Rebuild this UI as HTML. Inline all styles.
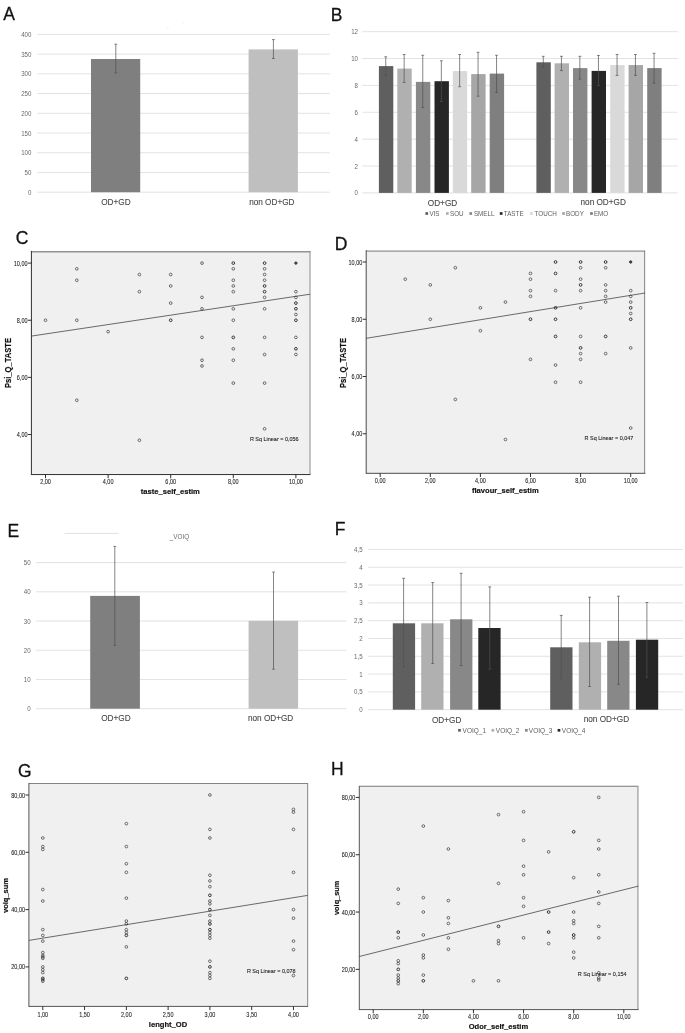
<!DOCTYPE html>
<html lang="en">
<head>
<meta charset="utf-8">
<title>Figure</title>
<style>
html,body{margin:0;padding:0;background:#fff;}
body{width:685px;height:1033px;overflow:hidden;}
svg{display:block;font-family:"Liberation Sans", Arial, sans-serif;filter:blur(0.3px);}
</style>
</head>
<body>
<svg width="685" height="1033" viewBox="0 0 685 1033">
<rect x="0" y="0" width="685" height="1033" fill="#ffffff"/>
<text x="3.30" y="20.00" font-size="17.5" fill="#111" text-anchor="start" font-weight="normal" stroke="#111" stroke-width="0.28">A</text>
<text x="330.70" y="20.60" font-size="17.5" fill="#111" text-anchor="start" font-weight="normal" stroke="#111" stroke-width="0.28">B</text>
<text x="15.80" y="243.90" font-size="17.5" fill="#111" text-anchor="start" font-weight="normal" stroke="#111" stroke-width="0.28">C</text>
<text x="334.80" y="249.80" font-size="17.5" fill="#111" text-anchor="start" font-weight="normal" stroke="#111" stroke-width="0.28">D</text>
<text x="7.40" y="537.10" font-size="17.5" fill="#111" text-anchor="start" font-weight="normal" stroke="#111" stroke-width="0.28">E</text>
<text x="334.80" y="535.10" font-size="17.5" fill="#111" text-anchor="start" font-weight="normal" stroke="#111" stroke-width="0.28">F</text>
<text x="18.10" y="777.30" font-size="17.5" fill="#111" text-anchor="start" font-weight="normal" stroke="#111" stroke-width="0.28">G</text>
<text x="330.90" y="775.20" font-size="17.5" fill="#111" text-anchor="start" font-weight="normal" stroke="#111" stroke-width="0.28">H</text>
<line x1="37.20" y1="192.20" x2="329.80" y2="192.20" stroke="#d8d8d8" stroke-width="0.75"/>
<text transform="translate(31.40,194.70) scale(0.96,1)" font-size="6.4" fill="#6a6a6a" text-anchor="end" font-weight="normal" >0</text>
<line x1="37.20" y1="172.47" x2="329.80" y2="172.47" stroke="#d8d8d8" stroke-width="0.75"/>
<text transform="translate(31.40,174.97) scale(0.96,1)" font-size="6.4" fill="#6a6a6a" text-anchor="end" font-weight="normal" >50</text>
<line x1="37.20" y1="152.75" x2="329.80" y2="152.75" stroke="#d8d8d8" stroke-width="0.75"/>
<text transform="translate(31.40,155.25) scale(0.96,1)" font-size="6.4" fill="#6a6a6a" text-anchor="end" font-weight="normal" >100</text>
<line x1="37.20" y1="133.02" x2="329.80" y2="133.02" stroke="#d8d8d8" stroke-width="0.75"/>
<text transform="translate(31.40,135.52) scale(0.96,1)" font-size="6.4" fill="#6a6a6a" text-anchor="end" font-weight="normal" >150</text>
<line x1="37.20" y1="113.30" x2="329.80" y2="113.30" stroke="#d8d8d8" stroke-width="0.75"/>
<text transform="translate(31.40,115.80) scale(0.96,1)" font-size="6.4" fill="#6a6a6a" text-anchor="end" font-weight="normal" >200</text>
<line x1="37.20" y1="93.57" x2="329.80" y2="93.57" stroke="#d8d8d8" stroke-width="0.75"/>
<text transform="translate(31.40,96.07) scale(0.96,1)" font-size="6.4" fill="#6a6a6a" text-anchor="end" font-weight="normal" >250</text>
<line x1="37.20" y1="73.85" x2="329.80" y2="73.85" stroke="#d8d8d8" stroke-width="0.75"/>
<text transform="translate(31.40,76.35) scale(0.96,1)" font-size="6.4" fill="#6a6a6a" text-anchor="end" font-weight="normal" >300</text>
<line x1="37.20" y1="54.12" x2="329.80" y2="54.12" stroke="#d8d8d8" stroke-width="0.75"/>
<text transform="translate(31.40,56.62) scale(0.96,1)" font-size="6.4" fill="#6a6a6a" text-anchor="end" font-weight="normal" >350</text>
<line x1="37.20" y1="34.40" x2="329.80" y2="34.40" stroke="#d8d8d8" stroke-width="0.75"/>
<text transform="translate(31.40,36.90) scale(0.96,1)" font-size="6.4" fill="#6a6a6a" text-anchor="end" font-weight="normal" >400</text>
<rect x="91.00" y="59.00" width="49.20" height="133.20" fill="#7f7f7f" />
<rect x="248.60" y="49.40" width="49.30" height="142.80" fill="#bfbfbf" />
<line x1="115.80" y1="44.20" x2="115.80" y2="72.90" stroke="#505050" stroke-width="0.7"/>
<line x1="114.40" y1="44.20" x2="117.20" y2="44.20" stroke="#505050" stroke-width="0.7"/>
<line x1="114.40" y1="72.90" x2="117.20" y2="72.90" stroke="#505050" stroke-width="0.7"/>
<line x1="273.40" y1="39.60" x2="273.40" y2="58.50" stroke="#505050" stroke-width="0.7"/>
<line x1="272.00" y1="39.60" x2="274.80" y2="39.60" stroke="#505050" stroke-width="0.7"/>
<line x1="272.00" y1="58.50" x2="274.80" y2="58.50" stroke="#505050" stroke-width="0.7"/>
<text transform="translate(115.90,204.60) scale(0.855,1)" font-size="9.6" fill="#484848" text-anchor="middle" font-weight="normal" stroke="#484848" stroke-width="0.12">OD+GD</text>
<text transform="translate(271.80,204.60) scale(0.855,1)" font-size="9.6" fill="#484848" text-anchor="middle" font-weight="normal" stroke="#484848" stroke-width="0.12">non OD+GD</text>
<rect x="182.60" y="22.60" width="0.80" height="0.60" fill="#cfcfcf" />
<rect x="166.50" y="28.20" width="2.20" height="0.50" fill="#e0e0e0" />
<line x1="362.30" y1="192.90" x2="677.80" y2="192.90" stroke="#d8d8d8" stroke-width="0.75"/>
<text transform="translate(358.00,195.40) scale(0.96,1)" font-size="6.4" fill="#6a6a6a" text-anchor="end" font-weight="normal" >0</text>
<line x1="362.30" y1="166.03" x2="677.80" y2="166.03" stroke="#d8d8d8" stroke-width="0.75"/>
<text transform="translate(358.00,168.53) scale(0.96,1)" font-size="6.4" fill="#6a6a6a" text-anchor="end" font-weight="normal" >2</text>
<line x1="362.30" y1="139.16" x2="677.80" y2="139.16" stroke="#d8d8d8" stroke-width="0.75"/>
<text transform="translate(358.00,141.66) scale(0.96,1)" font-size="6.4" fill="#6a6a6a" text-anchor="end" font-weight="normal" >4</text>
<line x1="362.30" y1="112.29" x2="677.80" y2="112.29" stroke="#d8d8d8" stroke-width="0.75"/>
<text transform="translate(358.00,114.79) scale(0.96,1)" font-size="6.4" fill="#6a6a6a" text-anchor="end" font-weight="normal" >6</text>
<line x1="362.30" y1="85.42" x2="677.80" y2="85.42" stroke="#d8d8d8" stroke-width="0.75"/>
<text transform="translate(358.00,87.92) scale(0.96,1)" font-size="6.4" fill="#6a6a6a" text-anchor="end" font-weight="normal" >8</text>
<line x1="362.30" y1="58.55" x2="677.80" y2="58.55" stroke="#d8d8d8" stroke-width="0.75"/>
<text transform="translate(358.00,61.05) scale(0.96,1)" font-size="6.4" fill="#6a6a6a" text-anchor="end" font-weight="normal" >10</text>
<line x1="362.30" y1="31.68" x2="677.80" y2="31.68" stroke="#d8d8d8" stroke-width="0.75"/>
<text transform="translate(358.00,34.18) scale(0.96,1)" font-size="6.4" fill="#6a6a6a" text-anchor="end" font-weight="normal" >12</text>
<rect x="378.90" y="66.10" width="14.40" height="126.80" fill="#5f5f5f" />
<rect x="397.30" y="68.60" width="14.40" height="124.30" fill="#b0b0b0" />
<rect x="415.90" y="81.90" width="14.40" height="111.00" fill="#888888" />
<rect x="434.50" y="81.20" width="14.40" height="111.70" fill="#262626" />
<rect x="452.80" y="71.10" width="14.40" height="121.80" fill="#d9d9d9" />
<rect x="471.20" y="74.10" width="14.40" height="118.80" fill="#a6a6a6" />
<rect x="489.70" y="73.60" width="14.40" height="119.30" fill="#7f7f7f" />
<rect x="536.40" y="62.30" width="14.40" height="130.60" fill="#5f5f5f" />
<rect x="554.60" y="63.30" width="14.40" height="129.60" fill="#b0b0b0" />
<rect x="573.00" y="68.10" width="14.40" height="124.80" fill="#888888" />
<rect x="591.60" y="70.90" width="14.40" height="122.00" fill="#262626" />
<rect x="610.20" y="65.10" width="14.40" height="127.80" fill="#d9d9d9" />
<rect x="628.60" y="65.10" width="14.40" height="127.80" fill="#a6a6a6" />
<rect x="647.20" y="68.10" width="14.40" height="124.80" fill="#7f7f7f" />
<line x1="385.75" y1="56.80" x2="385.75" y2="75.40" stroke="#505050" stroke-width="0.7"/>
<line x1="384.35" y1="56.80" x2="387.15" y2="56.80" stroke="#505050" stroke-width="0.7"/>
<line x1="384.35" y1="75.40" x2="387.15" y2="75.40" stroke="#505050" stroke-width="0.7"/>
<line x1="404.15" y1="54.50" x2="404.15" y2="82.40" stroke="#505050" stroke-width="0.7"/>
<line x1="402.75" y1="54.50" x2="405.55" y2="54.50" stroke="#505050" stroke-width="0.7"/>
<line x1="402.75" y1="82.40" x2="405.55" y2="82.40" stroke="#505050" stroke-width="0.7"/>
<line x1="422.75" y1="55.30" x2="422.75" y2="107.50" stroke="#505050" stroke-width="0.7"/>
<line x1="421.35" y1="55.30" x2="424.15" y2="55.30" stroke="#505050" stroke-width="0.7"/>
<line x1="421.35" y1="107.50" x2="424.15" y2="107.50" stroke="#505050" stroke-width="0.7"/>
<line x1="441.35" y1="60.80" x2="441.35" y2="101.50" stroke="#505050" stroke-width="0.7"/>
<line x1="439.95" y1="60.80" x2="442.75" y2="60.80" stroke="#505050" stroke-width="0.7"/>
<line x1="439.95" y1="101.50" x2="442.75" y2="101.50" stroke="#505050" stroke-width="0.7"/>
<line x1="459.65" y1="54.50" x2="459.65" y2="86.70" stroke="#505050" stroke-width="0.7"/>
<line x1="458.25" y1="54.50" x2="461.05" y2="54.50" stroke="#505050" stroke-width="0.7"/>
<line x1="458.25" y1="86.70" x2="461.05" y2="86.70" stroke="#505050" stroke-width="0.7"/>
<line x1="478.05" y1="52.30" x2="478.05" y2="96.20" stroke="#505050" stroke-width="0.7"/>
<line x1="476.65" y1="52.30" x2="479.45" y2="52.30" stroke="#505050" stroke-width="0.7"/>
<line x1="476.65" y1="96.20" x2="479.45" y2="96.20" stroke="#505050" stroke-width="0.7"/>
<line x1="496.55" y1="55.30" x2="496.55" y2="92.50" stroke="#505050" stroke-width="0.7"/>
<line x1="495.15" y1="55.30" x2="497.95" y2="55.30" stroke="#505050" stroke-width="0.7"/>
<line x1="495.15" y1="92.50" x2="497.95" y2="92.50" stroke="#505050" stroke-width="0.7"/>
<line x1="543.25" y1="56.30" x2="543.25" y2="67.30" stroke="#505050" stroke-width="0.7"/>
<line x1="541.85" y1="56.30" x2="544.65" y2="56.30" stroke="#505050" stroke-width="0.7"/>
<line x1="541.85" y1="67.30" x2="544.65" y2="67.30" stroke="#505050" stroke-width="0.7"/>
<line x1="561.45" y1="56.30" x2="561.45" y2="70.60" stroke="#505050" stroke-width="0.7"/>
<line x1="560.05" y1="56.30" x2="562.85" y2="56.30" stroke="#505050" stroke-width="0.7"/>
<line x1="560.05" y1="70.60" x2="562.85" y2="70.60" stroke="#505050" stroke-width="0.7"/>
<line x1="579.85" y1="56.30" x2="579.85" y2="79.10" stroke="#505050" stroke-width="0.7"/>
<line x1="578.45" y1="56.30" x2="581.25" y2="56.30" stroke="#505050" stroke-width="0.7"/>
<line x1="578.45" y1="79.10" x2="581.25" y2="79.10" stroke="#505050" stroke-width="0.7"/>
<line x1="598.45" y1="55.50" x2="598.45" y2="85.40" stroke="#505050" stroke-width="0.7"/>
<line x1="597.05" y1="55.50" x2="599.85" y2="55.50" stroke="#505050" stroke-width="0.7"/>
<line x1="597.05" y1="85.40" x2="599.85" y2="85.40" stroke="#505050" stroke-width="0.7"/>
<line x1="617.05" y1="54.50" x2="617.05" y2="75.40" stroke="#505050" stroke-width="0.7"/>
<line x1="615.65" y1="54.50" x2="618.45" y2="54.50" stroke="#505050" stroke-width="0.7"/>
<line x1="615.65" y1="75.40" x2="618.45" y2="75.40" stroke="#505050" stroke-width="0.7"/>
<line x1="635.45" y1="54.50" x2="635.45" y2="75.40" stroke="#505050" stroke-width="0.7"/>
<line x1="634.05" y1="54.50" x2="636.85" y2="54.50" stroke="#505050" stroke-width="0.7"/>
<line x1="634.05" y1="75.40" x2="636.85" y2="75.40" stroke="#505050" stroke-width="0.7"/>
<line x1="654.05" y1="53.30" x2="654.05" y2="83.20" stroke="#505050" stroke-width="0.7"/>
<line x1="652.65" y1="53.30" x2="655.45" y2="53.30" stroke="#505050" stroke-width="0.7"/>
<line x1="652.65" y1="83.20" x2="655.45" y2="83.20" stroke="#505050" stroke-width="0.7"/>
<text transform="translate(442.50,205.80) scale(0.855,1)" font-size="9.6" fill="#484848" text-anchor="middle" font-weight="normal" stroke="#484848" stroke-width="0.12">OD+GD</text>
<text transform="translate(603.20,204.70) scale(0.855,1)" font-size="9.6" fill="#484848" text-anchor="middle" font-weight="normal" stroke="#484848" stroke-width="0.12">non OD+GD</text>
<rect x="425.40" y="212.15" width="2.70" height="2.70" fill="#5f5f5f" />
<text transform="translate(429.40,215.85) scale(0.97,1)" font-size="6.5" fill="#5e5e5e" text-anchor="start" font-weight="normal" >VIS</text>
<rect x="446.00" y="212.15" width="2.70" height="2.70" fill="#b0b0b0" />
<text transform="translate(450.00,215.85) scale(0.97,1)" font-size="6.5" fill="#5e5e5e" text-anchor="start" font-weight="normal" >SOU</text>
<rect x="469.40" y="212.15" width="2.70" height="2.70" fill="#888888" />
<text transform="translate(473.90,215.85) scale(0.97,1)" font-size="6.5" fill="#5e5e5e" text-anchor="start" font-weight="normal" >SMELL</text>
<rect x="499.80" y="212.15" width="2.70" height="2.70" fill="#262626" />
<text transform="translate(503.80,215.85) scale(0.97,1)" font-size="6.5" fill="#5e5e5e" text-anchor="start" font-weight="normal" >TASTE</text>
<rect x="530.00" y="212.15" width="2.70" height="2.70" fill="#d9d9d9" />
<text transform="translate(534.60,215.85) scale(0.97,1)" font-size="6.5" fill="#5e5e5e" text-anchor="start" font-weight="normal" >TOUCH</text>
<rect x="562.20" y="212.15" width="2.70" height="2.70" fill="#a6a6a6" />
<text transform="translate(566.00,215.85) scale(0.97,1)" font-size="6.5" fill="#5e5e5e" text-anchor="start" font-weight="normal" >BODY</text>
<rect x="590.10" y="212.15" width="2.70" height="2.70" fill="#7f7f7f" />
<text transform="translate(593.90,215.85) scale(0.97,1)" font-size="6.5" fill="#5e5e5e" text-anchor="start" font-weight="normal" >EMO</text>
<line x1="35.90" y1="708.70" x2="346.30" y2="708.70" stroke="#d8d8d8" stroke-width="0.75"/>
<text transform="translate(30.70,711.20) scale(0.96,1)" font-size="6.4" fill="#6a6a6a" text-anchor="end" font-weight="normal" >0</text>
<line x1="35.90" y1="679.48" x2="346.30" y2="679.48" stroke="#d8d8d8" stroke-width="0.75"/>
<text transform="translate(30.70,681.98) scale(0.96,1)" font-size="6.4" fill="#6a6a6a" text-anchor="end" font-weight="normal" >10</text>
<line x1="35.90" y1="650.26" x2="346.30" y2="650.26" stroke="#d8d8d8" stroke-width="0.75"/>
<text transform="translate(30.70,652.76) scale(0.96,1)" font-size="6.4" fill="#6a6a6a" text-anchor="end" font-weight="normal" >20</text>
<line x1="35.90" y1="621.04" x2="346.30" y2="621.04" stroke="#d8d8d8" stroke-width="0.75"/>
<text transform="translate(30.70,623.54) scale(0.96,1)" font-size="6.4" fill="#6a6a6a" text-anchor="end" font-weight="normal" >30</text>
<line x1="35.90" y1="591.82" x2="346.30" y2="591.82" stroke="#d8d8d8" stroke-width="0.75"/>
<text transform="translate(30.70,594.32) scale(0.96,1)" font-size="6.4" fill="#6a6a6a" text-anchor="end" font-weight="normal" >40</text>
<line x1="35.90" y1="562.60" x2="346.30" y2="562.60" stroke="#d8d8d8" stroke-width="0.75"/>
<text transform="translate(30.70,565.10) scale(0.96,1)" font-size="6.4" fill="#6a6a6a" text-anchor="end" font-weight="normal" >50</text>
<rect x="90.20" y="595.90" width="49.70" height="112.80" fill="#7f7f7f" />
<rect x="248.60" y="620.80" width="49.50" height="87.90" fill="#bfbfbf" />
<line x1="114.80" y1="546.40" x2="114.80" y2="645.40" stroke="#505050" stroke-width="0.7"/>
<line x1="113.40" y1="546.40" x2="116.20" y2="546.40" stroke="#505050" stroke-width="0.7"/>
<line x1="113.40" y1="645.40" x2="116.20" y2="645.40" stroke="#505050" stroke-width="0.7"/>
<line x1="273.50" y1="572.10" x2="273.50" y2="669.20" stroke="#505050" stroke-width="0.7"/>
<line x1="272.10" y1="572.10" x2="274.90" y2="572.10" stroke="#505050" stroke-width="0.7"/>
<line x1="272.10" y1="669.20" x2="274.90" y2="669.20" stroke="#505050" stroke-width="0.7"/>
<text transform="translate(115.90,721.30) scale(0.855,1)" font-size="9.6" fill="#484848" text-anchor="middle" font-weight="normal" stroke="#484848" stroke-width="0.12">OD+GD</text>
<text transform="translate(270.60,721.30) scale(0.855,1)" font-size="9.6" fill="#484848" text-anchor="middle" font-weight="normal" stroke="#484848" stroke-width="0.12">non OD+GD</text>
<line x1="64.60" y1="533.40" x2="118.60" y2="533.40" stroke="#d4d4d4" stroke-width="0.7"/>
<text x="169.60" y="538.60" font-size="6.4" fill="#707070" text-anchor="start" font-weight="normal" >_VOIQ</text>
<line x1="368.20" y1="709.70" x2="682.90" y2="709.70" stroke="#d8d8d8" stroke-width="0.75"/>
<text transform="translate(362.60,712.20) scale(0.96,1)" font-size="6.4" fill="#6a6a6a" text-anchor="end" font-weight="normal" >0</text>
<line x1="368.20" y1="691.89" x2="682.90" y2="691.89" stroke="#d8d8d8" stroke-width="0.75"/>
<text transform="translate(362.60,694.39) scale(0.96,1)" font-size="6.4" fill="#6a6a6a" text-anchor="end" font-weight="normal" >0,5</text>
<line x1="368.20" y1="674.08" x2="682.90" y2="674.08" stroke="#d8d8d8" stroke-width="0.75"/>
<text transform="translate(362.60,676.58) scale(0.96,1)" font-size="6.4" fill="#6a6a6a" text-anchor="end" font-weight="normal" >1</text>
<line x1="368.20" y1="656.27" x2="682.90" y2="656.27" stroke="#d8d8d8" stroke-width="0.75"/>
<text transform="translate(362.60,658.77) scale(0.96,1)" font-size="6.4" fill="#6a6a6a" text-anchor="end" font-weight="normal" >1,5</text>
<line x1="368.20" y1="638.46" x2="682.90" y2="638.46" stroke="#d8d8d8" stroke-width="0.75"/>
<text transform="translate(362.60,640.96) scale(0.96,1)" font-size="6.4" fill="#6a6a6a" text-anchor="end" font-weight="normal" >2</text>
<line x1="368.20" y1="620.65" x2="682.90" y2="620.65" stroke="#d8d8d8" stroke-width="0.75"/>
<text transform="translate(362.60,623.15) scale(0.96,1)" font-size="6.4" fill="#6a6a6a" text-anchor="end" font-weight="normal" >2,5</text>
<line x1="368.20" y1="602.84" x2="682.90" y2="602.84" stroke="#d8d8d8" stroke-width="0.75"/>
<text transform="translate(362.60,605.34) scale(0.96,1)" font-size="6.4" fill="#6a6a6a" text-anchor="end" font-weight="normal" >3</text>
<line x1="368.20" y1="585.03" x2="682.90" y2="585.03" stroke="#d8d8d8" stroke-width="0.75"/>
<text transform="translate(362.60,587.53) scale(0.96,1)" font-size="6.4" fill="#6a6a6a" text-anchor="end" font-weight="normal" >3,5</text>
<line x1="368.20" y1="567.22" x2="682.90" y2="567.22" stroke="#d8d8d8" stroke-width="0.75"/>
<text transform="translate(362.60,569.72) scale(0.96,1)" font-size="6.4" fill="#6a6a6a" text-anchor="end" font-weight="normal" >4</text>
<line x1="368.20" y1="549.41" x2="682.90" y2="549.41" stroke="#d8d8d8" stroke-width="0.75"/>
<text transform="translate(362.60,551.91) scale(0.96,1)" font-size="6.4" fill="#6a6a6a" text-anchor="end" font-weight="normal" >4,5</text>
<rect x="392.80" y="623.30" width="22.30" height="86.40" fill="#5f5f5f" />
<rect x="421.20" y="623.30" width="22.30" height="86.40" fill="#b0b0b0" />
<rect x="450.10" y="619.30" width="22.30" height="90.40" fill="#888888" />
<rect x="478.30" y="628.00" width="22.30" height="81.70" fill="#262626" />
<rect x="550.20" y="647.30" width="22.30" height="62.40" fill="#5f5f5f" />
<rect x="578.80" y="642.30" width="22.30" height="67.40" fill="#b0b0b0" />
<rect x="607.20" y="640.80" width="22.30" height="68.90" fill="#888888" />
<rect x="635.90" y="639.70" width="22.30" height="70.00" fill="#262626" />
<line x1="403.60" y1="578.30" x2="403.60" y2="667.00" stroke="#505050" stroke-width="0.7"/>
<line x1="402.20" y1="578.30" x2="405.00" y2="578.30" stroke="#505050" stroke-width="0.7"/>
<line x1="402.20" y1="667.00" x2="405.00" y2="667.00" stroke="#505050" stroke-width="0.7"/>
<line x1="432.70" y1="582.60" x2="432.70" y2="663.50" stroke="#505050" stroke-width="0.7"/>
<line x1="431.30" y1="582.60" x2="434.10" y2="582.60" stroke="#505050" stroke-width="0.7"/>
<line x1="431.30" y1="663.50" x2="434.10" y2="663.50" stroke="#505050" stroke-width="0.7"/>
<line x1="461.10" y1="573.30" x2="461.10" y2="665.50" stroke="#505050" stroke-width="0.7"/>
<line x1="459.70" y1="573.30" x2="462.50" y2="573.30" stroke="#505050" stroke-width="0.7"/>
<line x1="459.70" y1="665.50" x2="462.50" y2="665.50" stroke="#505050" stroke-width="0.7"/>
<line x1="489.80" y1="586.90" x2="489.80" y2="669.20" stroke="#505050" stroke-width="0.7"/>
<line x1="488.40" y1="586.90" x2="491.20" y2="586.90" stroke="#505050" stroke-width="0.7"/>
<line x1="488.40" y1="669.20" x2="491.20" y2="669.20" stroke="#505050" stroke-width="0.7"/>
<line x1="561.20" y1="615.40" x2="561.20" y2="679.90" stroke="#505050" stroke-width="0.7"/>
<line x1="559.80" y1="615.40" x2="562.60" y2="615.40" stroke="#505050" stroke-width="0.7"/>
<line x1="559.80" y1="679.90" x2="562.60" y2="679.90" stroke="#505050" stroke-width="0.7"/>
<line x1="589.60" y1="597.20" x2="589.60" y2="686.50" stroke="#505050" stroke-width="0.7"/>
<line x1="588.20" y1="597.20" x2="591.00" y2="597.20" stroke="#505050" stroke-width="0.7"/>
<line x1="588.20" y1="686.50" x2="591.00" y2="686.50" stroke="#505050" stroke-width="0.7"/>
<line x1="618.50" y1="596.20" x2="618.50" y2="684.40" stroke="#505050" stroke-width="0.7"/>
<line x1="617.10" y1="596.20" x2="619.90" y2="596.20" stroke="#505050" stroke-width="0.7"/>
<line x1="617.10" y1="684.40" x2="619.90" y2="684.40" stroke="#505050" stroke-width="0.7"/>
<line x1="646.90" y1="602.50" x2="646.90" y2="677.30" stroke="#505050" stroke-width="0.7"/>
<line x1="645.50" y1="602.50" x2="648.30" y2="602.50" stroke="#505050" stroke-width="0.7"/>
<line x1="645.50" y1="677.30" x2="648.30" y2="677.30" stroke="#505050" stroke-width="0.7"/>
<text transform="translate(446.60,722.90) scale(0.855,1)" font-size="9.6" fill="#484848" text-anchor="middle" font-weight="normal" stroke="#484848" stroke-width="0.12">OD+GD</text>
<text transform="translate(606.40,721.90) scale(0.855,1)" font-size="9.6" fill="#484848" text-anchor="middle" font-weight="normal" stroke="#484848" stroke-width="0.12">non OD+GD</text>
<rect x="458.10" y="728.95" width="2.70" height="2.70" fill="#5f5f5f" />
<text transform="translate(462.60,732.65) scale(0.97,1)" font-size="6.7" fill="#5e5e5e" text-anchor="start" font-weight="normal" >VOIQ_1</text>
<rect x="491.50" y="728.95" width="2.70" height="2.70" fill="#b0b0b0" />
<text transform="translate(495.80,732.65) scale(0.97,1)" font-size="6.7" fill="#5e5e5e" text-anchor="start" font-weight="normal" >VOIQ_2</text>
<rect x="525.00" y="728.95" width="2.70" height="2.70" fill="#888888" />
<text transform="translate(528.80,732.65) scale(0.97,1)" font-size="6.7" fill="#5e5e5e" text-anchor="start" font-weight="normal" >VOIQ_3</text>
<rect x="557.60" y="728.95" width="2.70" height="2.70" fill="#262626" />
<text transform="translate(561.80,732.65) scale(0.97,1)" font-size="6.7" fill="#5e5e5e" text-anchor="start" font-weight="normal" >VOIQ_4</text>
<rect x="31.40" y="251.30" width="278.60" height="223.25" fill="#f0f0f0" />
<line x1="31.40" y1="251.75" x2="310.50" y2="251.75" stroke="#939393" stroke-width="1.3"/>
<line x1="310.00" y1="251.30" x2="310.00" y2="474.55" stroke="#8c8c8c" stroke-width="1.0"/>
<line x1="31.40" y1="250.90" x2="31.40" y2="475.05" stroke="#303030" stroke-width="1.0"/>
<line x1="31.40" y1="474.55" x2="310.40" y2="474.55" stroke="#303030" stroke-width="1.0"/>
<line x1="31.40" y1="336.10" x2="310.00" y2="294.20" stroke="#333333" stroke-width="0.72"/>
<line x1="27.90" y1="434.52" x2="31.40" y2="434.52" stroke="#1a1a1a" stroke-width="0.9"/>
<text transform="translate(27.50,437.07) scale(0.86,1)" font-size="6.4" fill="#1c1c1c" text-anchor="end" font-weight="normal" stroke="#1c1c1c" stroke-width="0.08">4,00</text>
<line x1="27.90" y1="377.38" x2="31.40" y2="377.38" stroke="#1a1a1a" stroke-width="0.9"/>
<text transform="translate(27.50,379.93) scale(0.86,1)" font-size="6.4" fill="#1c1c1c" text-anchor="end" font-weight="normal" stroke="#1c1c1c" stroke-width="0.08">6,00</text>
<line x1="27.90" y1="320.24" x2="31.40" y2="320.24" stroke="#1a1a1a" stroke-width="0.9"/>
<text transform="translate(27.50,322.79) scale(0.86,1)" font-size="6.4" fill="#1c1c1c" text-anchor="end" font-weight="normal" stroke="#1c1c1c" stroke-width="0.08">8,00</text>
<line x1="27.90" y1="263.10" x2="31.40" y2="263.10" stroke="#1a1a1a" stroke-width="0.9"/>
<text transform="translate(27.50,265.65) scale(0.86,1)" font-size="6.4" fill="#1c1c1c" text-anchor="end" font-weight="normal" stroke="#1c1c1c" stroke-width="0.08">10,00</text>
<line x1="45.50" y1="474.55" x2="45.50" y2="478.25" stroke="#1a1a1a" stroke-width="0.9"/>
<text transform="translate(45.50,484.40) scale(0.86,1)" font-size="6.4" fill="#1c1c1c" text-anchor="middle" font-weight="normal" stroke="#1c1c1c" stroke-width="0.08">2,00</text>
<line x1="108.10" y1="474.55" x2="108.10" y2="478.25" stroke="#1a1a1a" stroke-width="0.9"/>
<text transform="translate(108.10,484.40) scale(0.86,1)" font-size="6.4" fill="#1c1c1c" text-anchor="middle" font-weight="normal" stroke="#1c1c1c" stroke-width="0.08">4,00</text>
<line x1="170.70" y1="474.55" x2="170.70" y2="478.25" stroke="#1a1a1a" stroke-width="0.9"/>
<text transform="translate(170.70,484.40) scale(0.86,1)" font-size="6.4" fill="#1c1c1c" text-anchor="middle" font-weight="normal" stroke="#1c1c1c" stroke-width="0.08">6,00</text>
<line x1="233.30" y1="474.55" x2="233.30" y2="478.25" stroke="#1a1a1a" stroke-width="0.9"/>
<text transform="translate(233.30,484.40) scale(0.86,1)" font-size="6.4" fill="#1c1c1c" text-anchor="middle" font-weight="normal" stroke="#1c1c1c" stroke-width="0.08">8,00</text>
<line x1="295.90" y1="474.55" x2="295.90" y2="478.25" stroke="#1a1a1a" stroke-width="0.9"/>
<text transform="translate(295.90,484.40) scale(0.86,1)" font-size="6.4" fill="#1c1c1c" text-anchor="middle" font-weight="normal" stroke="#1c1c1c" stroke-width="0.08">10,00</text>
<circle cx="45.50" cy="320.24" r="1.36" fill="none" stroke="#2c2c2c" stroke-width="0.66"/>
<circle cx="76.80" cy="268.81" r="1.36" fill="none" stroke="#2c2c2c" stroke-width="0.66"/>
<circle cx="76.80" cy="280.24" r="1.36" fill="none" stroke="#2c2c2c" stroke-width="0.66"/>
<circle cx="76.80" cy="320.24" r="1.36" fill="none" stroke="#2c2c2c" stroke-width="0.66"/>
<circle cx="76.80" cy="400.24" r="1.36" fill="none" stroke="#2c2c2c" stroke-width="0.66"/>
<circle cx="108.10" cy="331.67" r="1.36" fill="none" stroke="#2c2c2c" stroke-width="0.66"/>
<circle cx="139.40" cy="274.53" r="1.36" fill="none" stroke="#2c2c2c" stroke-width="0.66"/>
<circle cx="139.40" cy="291.67" r="1.36" fill="none" stroke="#2c2c2c" stroke-width="0.66"/>
<circle cx="139.40" cy="440.23" r="1.36" fill="none" stroke="#2c2c2c" stroke-width="0.66"/>
<circle cx="170.70" cy="274.53" r="1.36" fill="none" stroke="#2c2c2c" stroke-width="0.66"/>
<circle cx="170.70" cy="285.96" r="1.36" fill="none" stroke="#2c2c2c" stroke-width="0.66"/>
<circle cx="170.70" cy="303.10" r="1.36" fill="none" stroke="#2c2c2c" stroke-width="0.66"/>
<circle cx="170.70" cy="320.24" r="1.36" fill="none" stroke="#2c2c2c" stroke-width="0.95"/>
<circle cx="202.00" cy="263.10" r="1.36" fill="none" stroke="#2c2c2c" stroke-width="0.66"/>
<circle cx="202.00" cy="297.38" r="1.36" fill="none" stroke="#2c2c2c" stroke-width="0.66"/>
<circle cx="202.00" cy="308.81" r="1.36" fill="none" stroke="#2c2c2c" stroke-width="0.66"/>
<circle cx="202.00" cy="337.38" r="1.36" fill="none" stroke="#2c2c2c" stroke-width="0.66"/>
<circle cx="202.00" cy="360.24" r="1.36" fill="none" stroke="#2c2c2c" stroke-width="0.66"/>
<circle cx="202.00" cy="365.95" r="1.36" fill="none" stroke="#2c2c2c" stroke-width="0.66"/>
<circle cx="233.30" cy="263.10" r="1.36" fill="none" stroke="#2c2c2c" stroke-width="0.95"/>
<circle cx="233.30" cy="268.81" r="1.36" fill="none" stroke="#2c2c2c" stroke-width="0.66"/>
<circle cx="233.30" cy="280.24" r="1.36" fill="none" stroke="#2c2c2c" stroke-width="0.66"/>
<circle cx="233.30" cy="285.96" r="1.36" fill="none" stroke="#2c2c2c" stroke-width="0.66"/>
<circle cx="233.30" cy="291.67" r="1.36" fill="none" stroke="#2c2c2c" stroke-width="0.66"/>
<circle cx="233.30" cy="308.81" r="1.36" fill="none" stroke="#2c2c2c" stroke-width="0.66"/>
<circle cx="233.30" cy="320.24" r="1.36" fill="none" stroke="#2c2c2c" stroke-width="0.66"/>
<circle cx="233.30" cy="337.38" r="1.36" fill="none" stroke="#2c2c2c" stroke-width="0.95"/>
<circle cx="233.30" cy="348.81" r="1.36" fill="none" stroke="#2c2c2c" stroke-width="0.66"/>
<circle cx="233.30" cy="360.24" r="1.36" fill="none" stroke="#2c2c2c" stroke-width="0.66"/>
<circle cx="233.30" cy="383.09" r="1.36" fill="none" stroke="#2c2c2c" stroke-width="0.66"/>
<circle cx="264.60" cy="263.10" r="1.36" fill="none" stroke="#2c2c2c" stroke-width="0.95"/>
<circle cx="264.60" cy="268.81" r="1.36" fill="none" stroke="#2c2c2c" stroke-width="0.66"/>
<circle cx="264.60" cy="274.53" r="1.36" fill="none" stroke="#2c2c2c" stroke-width="0.66"/>
<circle cx="264.60" cy="280.24" r="1.36" fill="none" stroke="#2c2c2c" stroke-width="0.66"/>
<circle cx="264.60" cy="285.96" r="1.36" fill="none" stroke="#2c2c2c" stroke-width="0.95"/>
<circle cx="264.60" cy="291.67" r="1.36" fill="none" stroke="#2c2c2c" stroke-width="0.95"/>
<circle cx="264.60" cy="297.38" r="1.36" fill="none" stroke="#2c2c2c" stroke-width="0.66"/>
<circle cx="264.60" cy="308.81" r="1.36" fill="none" stroke="#2c2c2c" stroke-width="0.66"/>
<circle cx="264.60" cy="337.38" r="1.36" fill="none" stroke="#2c2c2c" stroke-width="0.66"/>
<circle cx="264.60" cy="354.52" r="1.36" fill="none" stroke="#2c2c2c" stroke-width="0.66"/>
<circle cx="264.60" cy="383.09" r="1.36" fill="none" stroke="#2c2c2c" stroke-width="0.66"/>
<circle cx="264.60" cy="428.81" r="1.36" fill="none" stroke="#2c2c2c" stroke-width="0.66"/>
<circle cx="295.90" cy="263.10" r="1.15" fill="#5a5a5a" stroke="#2c2c2c" stroke-width="1.0"/>
<circle cx="295.90" cy="291.67" r="1.36" fill="none" stroke="#2c2c2c" stroke-width="0.66"/>
<circle cx="295.90" cy="297.38" r="1.36" fill="none" stroke="#2c2c2c" stroke-width="0.66"/>
<circle cx="295.90" cy="303.10" r="1.36" fill="none" stroke="#2c2c2c" stroke-width="0.95"/>
<circle cx="295.90" cy="308.81" r="1.36" fill="none" stroke="#2c2c2c" stroke-width="0.95"/>
<circle cx="295.90" cy="314.53" r="1.36" fill="none" stroke="#2c2c2c" stroke-width="0.66"/>
<circle cx="295.90" cy="320.24" r="1.36" fill="none" stroke="#2c2c2c" stroke-width="0.95"/>
<circle cx="295.90" cy="337.38" r="1.36" fill="none" stroke="#2c2c2c" stroke-width="0.66"/>
<circle cx="295.90" cy="348.81" r="1.36" fill="none" stroke="#2c2c2c" stroke-width="0.95"/>
<circle cx="295.90" cy="354.52" r="1.36" fill="none" stroke="#2c2c2c" stroke-width="0.66"/>
<text transform="translate(170.30,494.20) scale(0.95,1)" font-size="8.0" fill="#111" text-anchor="middle" font-weight="bold" stroke="#111" stroke-width="0.18">taste_self_estim</text>
<text transform="translate(11.40,363.00) rotate(-90) scale(0.88,1)" font-size="8.6" font-weight="bold" fill="#111" stroke="#111" stroke-width="0.18" text-anchor="middle">Psi_Q_TASTE</text>
<text transform="translate(249.90,440.65) scale(0.883,1)" font-size="6.2" fill="#1c1c1c" text-anchor="start" font-weight="normal" stroke="#1c1c1c" stroke-width="0.1">R Sq Linear = 0,056</text>
<rect x="366.20" y="250.60" width="278.80" height="222.70" fill="#f0f0f0" />
<line x1="366.20" y1="251.05" x2="645.07" y2="251.05" stroke="#939393" stroke-width="1.3"/>
<line x1="644.65" y1="250.60" x2="644.65" y2="473.30" stroke="#707070" stroke-width="0.85"/>
<line x1="366.20" y1="250.20" x2="366.20" y2="473.80" stroke="#4a4a4a" stroke-width="1.0"/>
<line x1="366.20" y1="473.30" x2="645.40" y2="473.30" stroke="#4a4a4a" stroke-width="1.0"/>
<line x1="366.20" y1="338.30" x2="645.00" y2="293.00" stroke="#333333" stroke-width="0.72"/>
<line x1="362.70" y1="433.78" x2="366.20" y2="433.78" stroke="#1a1a1a" stroke-width="0.9"/>
<text transform="translate(362.30,436.33) scale(0.86,1)" font-size="6.4" fill="#1c1c1c" text-anchor="end" font-weight="normal" stroke="#1c1c1c" stroke-width="0.08">4,00</text>
<line x1="362.70" y1="376.52" x2="366.20" y2="376.52" stroke="#1a1a1a" stroke-width="0.9"/>
<text transform="translate(362.30,379.07) scale(0.86,1)" font-size="6.4" fill="#1c1c1c" text-anchor="end" font-weight="normal" stroke="#1c1c1c" stroke-width="0.08">6,00</text>
<line x1="362.70" y1="319.26" x2="366.20" y2="319.26" stroke="#1a1a1a" stroke-width="0.9"/>
<text transform="translate(362.30,321.81) scale(0.86,1)" font-size="6.4" fill="#1c1c1c" text-anchor="end" font-weight="normal" stroke="#1c1c1c" stroke-width="0.08">8,00</text>
<line x1="362.70" y1="262.00" x2="366.20" y2="262.00" stroke="#1a1a1a" stroke-width="0.9"/>
<text transform="translate(362.30,264.55) scale(0.86,1)" font-size="6.4" fill="#1c1c1c" text-anchor="end" font-weight="normal" stroke="#1c1c1c" stroke-width="0.08">10,00</text>
<line x1="380.20" y1="473.30" x2="380.20" y2="477.00" stroke="#1a1a1a" stroke-width="0.9"/>
<text transform="translate(380.20,482.80) scale(0.86,1)" font-size="6.4" fill="#1c1c1c" text-anchor="middle" font-weight="normal" stroke="#1c1c1c" stroke-width="0.08">0,00</text>
<line x1="430.30" y1="473.30" x2="430.30" y2="477.00" stroke="#1a1a1a" stroke-width="0.9"/>
<text transform="translate(430.30,482.80) scale(0.86,1)" font-size="6.4" fill="#1c1c1c" text-anchor="middle" font-weight="normal" stroke="#1c1c1c" stroke-width="0.08">2,00</text>
<line x1="480.40" y1="473.30" x2="480.40" y2="477.00" stroke="#1a1a1a" stroke-width="0.9"/>
<text transform="translate(480.40,482.80) scale(0.86,1)" font-size="6.4" fill="#1c1c1c" text-anchor="middle" font-weight="normal" stroke="#1c1c1c" stroke-width="0.08">4,00</text>
<line x1="530.50" y1="473.30" x2="530.50" y2="477.00" stroke="#1a1a1a" stroke-width="0.9"/>
<text transform="translate(530.50,482.80) scale(0.86,1)" font-size="6.4" fill="#1c1c1c" text-anchor="middle" font-weight="normal" stroke="#1c1c1c" stroke-width="0.08">6,00</text>
<line x1="580.60" y1="473.30" x2="580.60" y2="477.00" stroke="#1a1a1a" stroke-width="0.9"/>
<text transform="translate(580.60,482.80) scale(0.86,1)" font-size="6.4" fill="#1c1c1c" text-anchor="middle" font-weight="normal" stroke="#1c1c1c" stroke-width="0.08">8,00</text>
<line x1="630.70" y1="473.30" x2="630.70" y2="477.00" stroke="#1a1a1a" stroke-width="0.9"/>
<text transform="translate(630.70,482.80) scale(0.86,1)" font-size="6.4" fill="#1c1c1c" text-anchor="middle" font-weight="normal" stroke="#1c1c1c" stroke-width="0.08">10,00</text>
<circle cx="405.25" cy="279.18" r="1.36" fill="none" stroke="#2c2c2c" stroke-width="0.66"/>
<circle cx="430.30" cy="284.90" r="1.36" fill="none" stroke="#2c2c2c" stroke-width="0.66"/>
<circle cx="430.30" cy="319.26" r="1.36" fill="none" stroke="#2c2c2c" stroke-width="0.66"/>
<circle cx="455.35" cy="267.73" r="1.36" fill="none" stroke="#2c2c2c" stroke-width="0.66"/>
<circle cx="455.35" cy="399.42" r="1.36" fill="none" stroke="#2c2c2c" stroke-width="0.66"/>
<circle cx="480.40" cy="307.81" r="1.36" fill="none" stroke="#2c2c2c" stroke-width="0.66"/>
<circle cx="480.40" cy="330.71" r="1.36" fill="none" stroke="#2c2c2c" stroke-width="0.66"/>
<circle cx="505.45" cy="302.08" r="1.36" fill="none" stroke="#2c2c2c" stroke-width="0.66"/>
<circle cx="505.45" cy="439.51" r="1.36" fill="none" stroke="#2c2c2c" stroke-width="0.66"/>
<circle cx="530.50" cy="273.45" r="1.36" fill="none" stroke="#2c2c2c" stroke-width="0.66"/>
<circle cx="530.50" cy="279.18" r="1.36" fill="none" stroke="#2c2c2c" stroke-width="0.66"/>
<circle cx="530.50" cy="290.63" r="1.36" fill="none" stroke="#2c2c2c" stroke-width="0.66"/>
<circle cx="530.50" cy="296.36" r="1.36" fill="none" stroke="#2c2c2c" stroke-width="0.66"/>
<circle cx="530.50" cy="319.26" r="1.36" fill="none" stroke="#2c2c2c" stroke-width="0.95"/>
<circle cx="530.50" cy="359.34" r="1.36" fill="none" stroke="#2c2c2c" stroke-width="0.66"/>
<circle cx="555.55" cy="262.00" r="1.36" fill="none" stroke="#2c2c2c" stroke-width="0.95"/>
<circle cx="555.55" cy="273.45" r="1.36" fill="none" stroke="#2c2c2c" stroke-width="0.95"/>
<circle cx="555.55" cy="290.63" r="1.36" fill="none" stroke="#2c2c2c" stroke-width="0.66"/>
<circle cx="555.55" cy="307.81" r="1.36" fill="none" stroke="#2c2c2c" stroke-width="0.95"/>
<circle cx="555.55" cy="319.26" r="1.36" fill="none" stroke="#2c2c2c" stroke-width="0.95"/>
<circle cx="555.55" cy="336.44" r="1.36" fill="none" stroke="#2c2c2c" stroke-width="0.95"/>
<circle cx="555.55" cy="365.07" r="1.36" fill="none" stroke="#2c2c2c" stroke-width="0.66"/>
<circle cx="555.55" cy="382.25" r="1.36" fill="none" stroke="#2c2c2c" stroke-width="0.66"/>
<circle cx="580.60" cy="262.00" r="1.36" fill="none" stroke="#2c2c2c" stroke-width="0.95"/>
<circle cx="580.60" cy="267.73" r="1.36" fill="none" stroke="#2c2c2c" stroke-width="0.66"/>
<circle cx="580.60" cy="279.18" r="1.36" fill="none" stroke="#2c2c2c" stroke-width="0.66"/>
<circle cx="580.60" cy="284.90" r="1.36" fill="none" stroke="#2c2c2c" stroke-width="0.95"/>
<circle cx="580.60" cy="290.63" r="1.36" fill="none" stroke="#2c2c2c" stroke-width="0.66"/>
<circle cx="580.60" cy="307.81" r="1.36" fill="none" stroke="#2c2c2c" stroke-width="0.66"/>
<circle cx="580.60" cy="336.44" r="1.36" fill="none" stroke="#2c2c2c" stroke-width="0.66"/>
<circle cx="580.60" cy="347.89" r="1.36" fill="none" stroke="#2c2c2c" stroke-width="0.95"/>
<circle cx="580.60" cy="353.62" r="1.36" fill="none" stroke="#2c2c2c" stroke-width="0.66"/>
<circle cx="580.60" cy="359.34" r="1.36" fill="none" stroke="#2c2c2c" stroke-width="0.66"/>
<circle cx="580.60" cy="382.25" r="1.36" fill="none" stroke="#2c2c2c" stroke-width="0.66"/>
<circle cx="605.65" cy="262.00" r="1.36" fill="none" stroke="#2c2c2c" stroke-width="0.95"/>
<circle cx="605.65" cy="267.73" r="1.36" fill="none" stroke="#2c2c2c" stroke-width="0.66"/>
<circle cx="605.65" cy="284.90" r="1.36" fill="none" stroke="#2c2c2c" stroke-width="0.66"/>
<circle cx="605.65" cy="290.63" r="1.36" fill="none" stroke="#2c2c2c" stroke-width="0.66"/>
<circle cx="605.65" cy="296.36" r="1.36" fill="none" stroke="#2c2c2c" stroke-width="0.66"/>
<circle cx="605.65" cy="302.08" r="1.36" fill="none" stroke="#2c2c2c" stroke-width="0.66"/>
<circle cx="605.65" cy="336.44" r="1.36" fill="none" stroke="#2c2c2c" stroke-width="0.95"/>
<circle cx="605.65" cy="353.62" r="1.36" fill="none" stroke="#2c2c2c" stroke-width="0.66"/>
<circle cx="630.70" cy="262.00" r="1.15" fill="#5a5a5a" stroke="#2c2c2c" stroke-width="1.0"/>
<circle cx="630.70" cy="290.63" r="1.36" fill="none" stroke="#2c2c2c" stroke-width="0.66"/>
<circle cx="630.70" cy="296.36" r="1.36" fill="none" stroke="#2c2c2c" stroke-width="0.66"/>
<circle cx="630.70" cy="302.08" r="1.36" fill="none" stroke="#2c2c2c" stroke-width="0.66"/>
<circle cx="630.70" cy="307.81" r="1.36" fill="none" stroke="#2c2c2c" stroke-width="0.95"/>
<circle cx="630.70" cy="313.53" r="1.36" fill="none" stroke="#2c2c2c" stroke-width="0.66"/>
<circle cx="630.70" cy="319.26" r="1.36" fill="none" stroke="#2c2c2c" stroke-width="0.95"/>
<circle cx="630.70" cy="347.89" r="1.36" fill="none" stroke="#2c2c2c" stroke-width="0.66"/>
<circle cx="630.70" cy="428.05" r="1.36" fill="none" stroke="#2c2c2c" stroke-width="0.66"/>
<text transform="translate(505.30,493.00) scale(0.95,1)" font-size="8.0" fill="#111" text-anchor="middle" font-weight="bold" stroke="#111" stroke-width="0.18">flavour_self_estim</text>
<text transform="translate(345.90,363.00) rotate(-90) scale(0.88,1)" font-size="8.6" font-weight="bold" fill="#111" stroke="#111" stroke-width="0.18" text-anchor="middle">Psi_Q_TASTE</text>
<text transform="translate(584.60,439.75) scale(0.883,1)" font-size="6.2" fill="#1c1c1c" text-anchor="start" font-weight="normal" stroke="#1c1c1c" stroke-width="0.1">R Sq Linear = 0,047</text>
<rect x="28.90" y="783.40" width="278.70" height="223.00" fill="#f0f0f0" />
<line x1="28.90" y1="783.50" x2="308.15" y2="783.50" stroke="#777777" stroke-width="0.9"/>
<line x1="307.70" y1="783.40" x2="307.70" y2="1006.40" stroke="#777777" stroke-width="0.9"/>
<line x1="28.90" y1="783.00" x2="28.90" y2="1006.90" stroke="#555555" stroke-width="1.0"/>
<line x1="28.90" y1="1006.40" x2="308.00" y2="1006.40" stroke="#555555" stroke-width="1.0"/>
<line x1="28.90" y1="940.40" x2="307.60" y2="895.40" stroke="#333333" stroke-width="0.72"/>
<line x1="25.40" y1="966.90" x2="28.90" y2="966.90" stroke="#1a1a1a" stroke-width="0.9"/>
<text transform="translate(25.00,969.45) scale(0.86,1)" font-size="6.4" fill="#1c1c1c" text-anchor="end" font-weight="normal" stroke="#1c1c1c" stroke-width="0.08">20,00</text>
<line x1="25.40" y1="909.60" x2="28.90" y2="909.60" stroke="#1a1a1a" stroke-width="0.9"/>
<text transform="translate(25.00,912.15) scale(0.86,1)" font-size="6.4" fill="#1c1c1c" text-anchor="end" font-weight="normal" stroke="#1c1c1c" stroke-width="0.08">40,00</text>
<line x1="25.40" y1="852.30" x2="28.90" y2="852.30" stroke="#1a1a1a" stroke-width="0.9"/>
<text transform="translate(25.00,854.85) scale(0.86,1)" font-size="6.4" fill="#1c1c1c" text-anchor="end" font-weight="normal" stroke="#1c1c1c" stroke-width="0.08">60,00</text>
<line x1="25.40" y1="795.00" x2="28.90" y2="795.00" stroke="#1a1a1a" stroke-width="0.9"/>
<text transform="translate(25.00,797.55) scale(0.86,1)" font-size="6.4" fill="#1c1c1c" text-anchor="end" font-weight="normal" stroke="#1c1c1c" stroke-width="0.08">80,00</text>
<line x1="42.80" y1="1006.40" x2="42.80" y2="1010.10" stroke="#1a1a1a" stroke-width="0.9"/>
<text transform="translate(42.80,1016.60) scale(0.86,1)" font-size="6.4" fill="#1c1c1c" text-anchor="middle" font-weight="normal" stroke="#1c1c1c" stroke-width="0.08">1,00</text>
<line x1="84.57" y1="1006.40" x2="84.57" y2="1010.10" stroke="#1a1a1a" stroke-width="0.9"/>
<text transform="translate(84.57,1016.60) scale(0.86,1)" font-size="6.4" fill="#1c1c1c" text-anchor="middle" font-weight="normal" stroke="#1c1c1c" stroke-width="0.08">1,50</text>
<line x1="126.35" y1="1006.40" x2="126.35" y2="1010.10" stroke="#1a1a1a" stroke-width="0.9"/>
<text transform="translate(126.35,1016.60) scale(0.86,1)" font-size="6.4" fill="#1c1c1c" text-anchor="middle" font-weight="normal" stroke="#1c1c1c" stroke-width="0.08">2,00</text>
<line x1="168.12" y1="1006.40" x2="168.12" y2="1010.10" stroke="#1a1a1a" stroke-width="0.9"/>
<text transform="translate(168.12,1016.60) scale(0.86,1)" font-size="6.4" fill="#1c1c1c" text-anchor="middle" font-weight="normal" stroke="#1c1c1c" stroke-width="0.08">2,50</text>
<line x1="209.90" y1="1006.40" x2="209.90" y2="1010.10" stroke="#1a1a1a" stroke-width="0.9"/>
<text transform="translate(209.90,1016.60) scale(0.86,1)" font-size="6.4" fill="#1c1c1c" text-anchor="middle" font-weight="normal" stroke="#1c1c1c" stroke-width="0.08">3,00</text>
<line x1="251.68" y1="1006.40" x2="251.68" y2="1010.10" stroke="#1a1a1a" stroke-width="0.9"/>
<text transform="translate(251.68,1016.60) scale(0.86,1)" font-size="6.4" fill="#1c1c1c" text-anchor="middle" font-weight="normal" stroke="#1c1c1c" stroke-width="0.08">3,50</text>
<line x1="293.45" y1="1006.40" x2="293.45" y2="1010.10" stroke="#1a1a1a" stroke-width="0.9"/>
<text transform="translate(293.45,1016.60) scale(0.86,1)" font-size="6.4" fill="#1c1c1c" text-anchor="middle" font-weight="normal" stroke="#1c1c1c" stroke-width="0.08">4,00</text>
<circle cx="42.80" cy="837.98" r="1.36" fill="none" stroke="#2c2c2c" stroke-width="0.66"/>
<circle cx="42.80" cy="846.57" r="1.36" fill="none" stroke="#2c2c2c" stroke-width="0.66"/>
<circle cx="42.80" cy="849.43" r="1.36" fill="none" stroke="#2c2c2c" stroke-width="0.66"/>
<circle cx="42.80" cy="889.54" r="1.36" fill="none" stroke="#2c2c2c" stroke-width="0.66"/>
<circle cx="42.80" cy="901.00" r="1.36" fill="none" stroke="#2c2c2c" stroke-width="0.66"/>
<circle cx="42.80" cy="929.65" r="1.36" fill="none" stroke="#2c2c2c" stroke-width="0.66"/>
<circle cx="42.80" cy="935.38" r="1.36" fill="none" stroke="#2c2c2c" stroke-width="0.66"/>
<circle cx="42.80" cy="941.12" r="1.36" fill="none" stroke="#2c2c2c" stroke-width="0.66"/>
<circle cx="42.80" cy="952.58" r="1.36" fill="none" stroke="#2c2c2c" stroke-width="0.66"/>
<circle cx="42.80" cy="955.44" r="1.36" fill="none" stroke="#2c2c2c" stroke-width="0.66"/>
<circle cx="42.80" cy="956.87" r="1.36" fill="none" stroke="#2c2c2c" stroke-width="0.66"/>
<circle cx="42.80" cy="958.31" r="1.36" fill="none" stroke="#2c2c2c" stroke-width="0.66"/>
<circle cx="42.80" cy="966.90" r="1.36" fill="none" stroke="#2c2c2c" stroke-width="0.66"/>
<circle cx="42.80" cy="969.76" r="1.36" fill="none" stroke="#2c2c2c" stroke-width="0.66"/>
<circle cx="42.80" cy="972.63" r="1.36" fill="none" stroke="#2c2c2c" stroke-width="0.66"/>
<circle cx="42.80" cy="978.36" r="1.36" fill="none" stroke="#2c2c2c" stroke-width="0.95"/>
<circle cx="42.80" cy="979.79" r="1.36" fill="none" stroke="#2c2c2c" stroke-width="0.66"/>
<circle cx="42.80" cy="981.23" r="1.36" fill="none" stroke="#2c2c2c" stroke-width="0.66"/>
<circle cx="126.35" cy="823.65" r="1.36" fill="none" stroke="#2c2c2c" stroke-width="0.66"/>
<circle cx="126.35" cy="846.57" r="1.36" fill="none" stroke="#2c2c2c" stroke-width="0.66"/>
<circle cx="126.35" cy="863.76" r="1.36" fill="none" stroke="#2c2c2c" stroke-width="0.66"/>
<circle cx="126.35" cy="872.36" r="1.36" fill="none" stroke="#2c2c2c" stroke-width="0.66"/>
<circle cx="126.35" cy="898.14" r="1.36" fill="none" stroke="#2c2c2c" stroke-width="0.66"/>
<circle cx="126.35" cy="921.06" r="1.36" fill="none" stroke="#2c2c2c" stroke-width="0.66"/>
<circle cx="126.35" cy="923.92" r="1.36" fill="none" stroke="#2c2c2c" stroke-width="0.66"/>
<circle cx="126.35" cy="929.65" r="1.36" fill="none" stroke="#2c2c2c" stroke-width="0.66"/>
<circle cx="126.35" cy="932.52" r="1.36" fill="none" stroke="#2c2c2c" stroke-width="0.66"/>
<circle cx="126.35" cy="935.38" r="1.36" fill="none" stroke="#2c2c2c" stroke-width="0.95"/>
<circle cx="126.35" cy="946.85" r="1.36" fill="none" stroke="#2c2c2c" stroke-width="0.66"/>
<circle cx="126.35" cy="978.36" r="1.36" fill="none" stroke="#2c2c2c" stroke-width="0.95"/>
<circle cx="209.90" cy="795.00" r="1.36" fill="none" stroke="#2c2c2c" stroke-width="0.66"/>
<circle cx="209.90" cy="829.38" r="1.36" fill="none" stroke="#2c2c2c" stroke-width="0.66"/>
<circle cx="209.90" cy="837.98" r="1.36" fill="none" stroke="#2c2c2c" stroke-width="0.66"/>
<circle cx="209.90" cy="875.22" r="1.36" fill="none" stroke="#2c2c2c" stroke-width="0.66"/>
<circle cx="209.90" cy="880.95" r="1.36" fill="none" stroke="#2c2c2c" stroke-width="0.66"/>
<circle cx="209.90" cy="886.68" r="1.36" fill="none" stroke="#2c2c2c" stroke-width="0.66"/>
<circle cx="209.90" cy="895.27" r="1.36" fill="none" stroke="#2c2c2c" stroke-width="0.95"/>
<circle cx="209.90" cy="901.00" r="1.36" fill="none" stroke="#2c2c2c" stroke-width="0.66"/>
<circle cx="209.90" cy="903.87" r="1.36" fill="none" stroke="#2c2c2c" stroke-width="0.66"/>
<circle cx="209.90" cy="909.60" r="1.36" fill="none" stroke="#2c2c2c" stroke-width="0.95"/>
<circle cx="209.90" cy="915.33" r="1.36" fill="none" stroke="#2c2c2c" stroke-width="0.66"/>
<circle cx="209.90" cy="921.06" r="1.36" fill="none" stroke="#2c2c2c" stroke-width="0.66"/>
<circle cx="209.90" cy="923.92" r="1.36" fill="none" stroke="#2c2c2c" stroke-width="0.95"/>
<circle cx="209.90" cy="929.65" r="1.36" fill="none" stroke="#2c2c2c" stroke-width="0.95"/>
<circle cx="209.90" cy="932.52" r="1.36" fill="none" stroke="#2c2c2c" stroke-width="0.66"/>
<circle cx="209.90" cy="935.38" r="1.36" fill="none" stroke="#2c2c2c" stroke-width="0.66"/>
<circle cx="209.90" cy="938.25" r="1.36" fill="none" stroke="#2c2c2c" stroke-width="0.66"/>
<circle cx="209.90" cy="961.17" r="1.36" fill="none" stroke="#2c2c2c" stroke-width="0.66"/>
<circle cx="209.90" cy="966.90" r="1.36" fill="none" stroke="#2c2c2c" stroke-width="0.95"/>
<circle cx="209.90" cy="972.63" r="1.36" fill="none" stroke="#2c2c2c" stroke-width="0.66"/>
<circle cx="209.90" cy="975.50" r="1.36" fill="none" stroke="#2c2c2c" stroke-width="0.66"/>
<circle cx="209.90" cy="978.36" r="1.36" fill="none" stroke="#2c2c2c" stroke-width="0.66"/>
<circle cx="293.45" cy="809.33" r="1.36" fill="none" stroke="#2c2c2c" stroke-width="0.66"/>
<circle cx="293.45" cy="812.19" r="1.36" fill="none" stroke="#2c2c2c" stroke-width="0.66"/>
<circle cx="293.45" cy="829.38" r="1.36" fill="none" stroke="#2c2c2c" stroke-width="0.66"/>
<circle cx="293.45" cy="872.36" r="1.36" fill="none" stroke="#2c2c2c" stroke-width="0.66"/>
<circle cx="293.45" cy="909.60" r="1.36" fill="none" stroke="#2c2c2c" stroke-width="0.66"/>
<circle cx="293.45" cy="918.20" r="1.36" fill="none" stroke="#2c2c2c" stroke-width="0.66"/>
<circle cx="293.45" cy="941.12" r="1.36" fill="none" stroke="#2c2c2c" stroke-width="0.66"/>
<circle cx="293.45" cy="949.71" r="1.36" fill="none" stroke="#2c2c2c" stroke-width="0.66"/>
<circle cx="293.45" cy="975.50" r="1.36" fill="none" stroke="#2c2c2c" stroke-width="0.66"/>
<text transform="translate(168.00,1026.50) scale(0.95,1)" font-size="8.0" fill="#111" text-anchor="middle" font-weight="bold" stroke="#111" stroke-width="0.18">lenght_OD</text>
<text transform="translate(7.85,895.50) rotate(-90) scale(1.03,1)" font-size="7.3" font-weight="bold" fill="#111" stroke="#111" stroke-width="0.18" text-anchor="middle">voiq_sum</text>
<text transform="translate(246.90,972.75) scale(0.883,1)" font-size="6.2" fill="#1c1c1c" text-anchor="start" font-weight="normal" stroke="#1c1c1c" stroke-width="0.1">R Sq Linear = 0,078</text>
<rect x="359.30" y="786.30" width="279.00" height="223.30" fill="#f0f0f0" />
<line x1="359.30" y1="786.25" x2="638.60" y2="786.25" stroke="#6a6a6a" stroke-width="0.9"/>
<line x1="637.90" y1="786.30" x2="637.90" y2="1009.60" stroke="#a8a8a8" stroke-width="1.4"/>
<line x1="359.30" y1="785.90" x2="359.30" y2="1010.10" stroke="#555555" stroke-width="1.0"/>
<line x1="359.30" y1="1009.60" x2="638.70" y2="1009.60" stroke="#555555" stroke-width="1.0"/>
<line x1="359.30" y1="956.50" x2="638.30" y2="886.10" stroke="#333333" stroke-width="0.72"/>
<line x1="355.80" y1="969.36" x2="359.30" y2="969.36" stroke="#1a1a1a" stroke-width="0.9"/>
<text transform="translate(355.40,971.91) scale(0.86,1)" font-size="6.4" fill="#1c1c1c" text-anchor="end" font-weight="normal" stroke="#1c1c1c" stroke-width="0.08">20,00</text>
<line x1="355.80" y1="912.04" x2="359.30" y2="912.04" stroke="#1a1a1a" stroke-width="0.9"/>
<text transform="translate(355.40,914.59) scale(0.86,1)" font-size="6.4" fill="#1c1c1c" text-anchor="end" font-weight="normal" stroke="#1c1c1c" stroke-width="0.08">40,00</text>
<line x1="355.80" y1="854.72" x2="359.30" y2="854.72" stroke="#1a1a1a" stroke-width="0.9"/>
<text transform="translate(355.40,857.27) scale(0.86,1)" font-size="6.4" fill="#1c1c1c" text-anchor="end" font-weight="normal" stroke="#1c1c1c" stroke-width="0.08">60,00</text>
<line x1="355.80" y1="797.40" x2="359.30" y2="797.40" stroke="#1a1a1a" stroke-width="0.9"/>
<text transform="translate(355.40,799.95) scale(0.86,1)" font-size="6.4" fill="#1c1c1c" text-anchor="end" font-weight="normal" stroke="#1c1c1c" stroke-width="0.08">80,00</text>
<line x1="373.20" y1="1009.60" x2="373.20" y2="1013.30" stroke="#1a1a1a" stroke-width="0.9"/>
<text transform="translate(373.20,1019.20) scale(0.86,1)" font-size="6.4" fill="#1c1c1c" text-anchor="middle" font-weight="normal" stroke="#1c1c1c" stroke-width="0.08">0,00</text>
<line x1="423.32" y1="1009.60" x2="423.32" y2="1013.30" stroke="#1a1a1a" stroke-width="0.9"/>
<text transform="translate(423.32,1019.20) scale(0.86,1)" font-size="6.4" fill="#1c1c1c" text-anchor="middle" font-weight="normal" stroke="#1c1c1c" stroke-width="0.08">2,00</text>
<line x1="473.44" y1="1009.60" x2="473.44" y2="1013.30" stroke="#1a1a1a" stroke-width="0.9"/>
<text transform="translate(473.44,1019.20) scale(0.86,1)" font-size="6.4" fill="#1c1c1c" text-anchor="middle" font-weight="normal" stroke="#1c1c1c" stroke-width="0.08">4,00</text>
<line x1="523.56" y1="1009.60" x2="523.56" y2="1013.30" stroke="#1a1a1a" stroke-width="0.9"/>
<text transform="translate(523.56,1019.20) scale(0.86,1)" font-size="6.4" fill="#1c1c1c" text-anchor="middle" font-weight="normal" stroke="#1c1c1c" stroke-width="0.08">6,00</text>
<line x1="573.68" y1="1009.60" x2="573.68" y2="1013.30" stroke="#1a1a1a" stroke-width="0.9"/>
<text transform="translate(573.68,1019.20) scale(0.86,1)" font-size="6.4" fill="#1c1c1c" text-anchor="middle" font-weight="normal" stroke="#1c1c1c" stroke-width="0.08">8,00</text>
<line x1="623.80" y1="1009.60" x2="623.80" y2="1013.30" stroke="#1a1a1a" stroke-width="0.9"/>
<text transform="translate(623.80,1019.20) scale(0.86,1)" font-size="6.4" fill="#1c1c1c" text-anchor="middle" font-weight="normal" stroke="#1c1c1c" stroke-width="0.08">10,00</text>
<circle cx="398.26" cy="889.11" r="1.36" fill="none" stroke="#2c2c2c" stroke-width="0.66"/>
<circle cx="398.26" cy="903.44" r="1.36" fill="none" stroke="#2c2c2c" stroke-width="0.66"/>
<circle cx="398.26" cy="932.10" r="1.36" fill="none" stroke="#2c2c2c" stroke-width="0.95"/>
<circle cx="398.26" cy="937.83" r="1.36" fill="none" stroke="#2c2c2c" stroke-width="0.66"/>
<circle cx="398.26" cy="960.76" r="1.36" fill="none" stroke="#2c2c2c" stroke-width="0.66"/>
<circle cx="398.26" cy="963.63" r="1.36" fill="none" stroke="#2c2c2c" stroke-width="0.66"/>
<circle cx="398.26" cy="969.36" r="1.36" fill="none" stroke="#2c2c2c" stroke-width="0.95"/>
<circle cx="398.26" cy="975.09" r="1.36" fill="none" stroke="#2c2c2c" stroke-width="0.66"/>
<circle cx="398.26" cy="977.96" r="1.36" fill="none" stroke="#2c2c2c" stroke-width="0.66"/>
<circle cx="398.26" cy="980.82" r="1.36" fill="none" stroke="#2c2c2c" stroke-width="0.95"/>
<circle cx="398.26" cy="983.69" r="1.36" fill="none" stroke="#2c2c2c" stroke-width="0.66"/>
<circle cx="423.32" cy="826.06" r="1.36" fill="none" stroke="#2c2c2c" stroke-width="0.66"/>
<circle cx="423.32" cy="897.71" r="1.36" fill="none" stroke="#2c2c2c" stroke-width="0.66"/>
<circle cx="423.32" cy="912.04" r="1.36" fill="none" stroke="#2c2c2c" stroke-width="0.66"/>
<circle cx="423.32" cy="934.97" r="1.36" fill="none" stroke="#2c2c2c" stroke-width="0.66"/>
<circle cx="423.32" cy="955.03" r="1.36" fill="none" stroke="#2c2c2c" stroke-width="0.66"/>
<circle cx="423.32" cy="957.90" r="1.36" fill="none" stroke="#2c2c2c" stroke-width="0.66"/>
<circle cx="423.32" cy="975.09" r="1.36" fill="none" stroke="#2c2c2c" stroke-width="0.66"/>
<circle cx="423.32" cy="980.82" r="1.36" fill="none" stroke="#2c2c2c" stroke-width="0.95"/>
<circle cx="448.38" cy="848.99" r="1.36" fill="none" stroke="#2c2c2c" stroke-width="0.66"/>
<circle cx="448.38" cy="900.58" r="1.36" fill="none" stroke="#2c2c2c" stroke-width="0.66"/>
<circle cx="448.38" cy="917.77" r="1.36" fill="none" stroke="#2c2c2c" stroke-width="0.66"/>
<circle cx="448.38" cy="923.50" r="1.36" fill="none" stroke="#2c2c2c" stroke-width="0.66"/>
<circle cx="448.38" cy="937.83" r="1.36" fill="none" stroke="#2c2c2c" stroke-width="0.66"/>
<circle cx="448.38" cy="949.30" r="1.36" fill="none" stroke="#2c2c2c" stroke-width="0.66"/>
<circle cx="473.44" cy="980.82" r="1.36" fill="none" stroke="#2c2c2c" stroke-width="0.66"/>
<circle cx="498.50" cy="814.60" r="1.36" fill="none" stroke="#2c2c2c" stroke-width="0.66"/>
<circle cx="498.50" cy="883.38" r="1.36" fill="none" stroke="#2c2c2c" stroke-width="0.66"/>
<circle cx="498.50" cy="926.37" r="1.36" fill="none" stroke="#2c2c2c" stroke-width="0.95"/>
<circle cx="498.50" cy="940.70" r="1.36" fill="none" stroke="#2c2c2c" stroke-width="0.66"/>
<circle cx="498.50" cy="943.57" r="1.36" fill="none" stroke="#2c2c2c" stroke-width="0.66"/>
<circle cx="498.50" cy="980.82" r="1.36" fill="none" stroke="#2c2c2c" stroke-width="0.66"/>
<circle cx="523.56" cy="811.73" r="1.36" fill="none" stroke="#2c2c2c" stroke-width="0.66"/>
<circle cx="523.56" cy="840.39" r="1.36" fill="none" stroke="#2c2c2c" stroke-width="0.66"/>
<circle cx="523.56" cy="866.18" r="1.36" fill="none" stroke="#2c2c2c" stroke-width="0.66"/>
<circle cx="523.56" cy="874.78" r="1.36" fill="none" stroke="#2c2c2c" stroke-width="0.66"/>
<circle cx="523.56" cy="897.71" r="1.36" fill="none" stroke="#2c2c2c" stroke-width="0.66"/>
<circle cx="523.56" cy="906.31" r="1.36" fill="none" stroke="#2c2c2c" stroke-width="0.66"/>
<circle cx="523.56" cy="937.83" r="1.36" fill="none" stroke="#2c2c2c" stroke-width="0.66"/>
<circle cx="548.62" cy="851.85" r="1.36" fill="none" stroke="#2c2c2c" stroke-width="0.66"/>
<circle cx="548.62" cy="912.04" r="1.36" fill="none" stroke="#2c2c2c" stroke-width="0.95"/>
<circle cx="548.62" cy="932.10" r="1.36" fill="none" stroke="#2c2c2c" stroke-width="0.95"/>
<circle cx="548.62" cy="943.57" r="1.36" fill="none" stroke="#2c2c2c" stroke-width="0.66"/>
<circle cx="573.68" cy="831.79" r="1.36" fill="none" stroke="#2c2c2c" stroke-width="0.95"/>
<circle cx="573.68" cy="877.65" r="1.36" fill="none" stroke="#2c2c2c" stroke-width="0.66"/>
<circle cx="573.68" cy="912.04" r="1.36" fill="none" stroke="#2c2c2c" stroke-width="0.66"/>
<circle cx="573.68" cy="920.64" r="1.36" fill="none" stroke="#2c2c2c" stroke-width="0.66"/>
<circle cx="573.68" cy="923.50" r="1.36" fill="none" stroke="#2c2c2c" stroke-width="0.66"/>
<circle cx="573.68" cy="934.97" r="1.36" fill="none" stroke="#2c2c2c" stroke-width="0.95"/>
<circle cx="573.68" cy="937.83" r="1.36" fill="none" stroke="#2c2c2c" stroke-width="0.66"/>
<circle cx="573.68" cy="952.16" r="1.36" fill="none" stroke="#2c2c2c" stroke-width="0.66"/>
<circle cx="573.68" cy="957.90" r="1.36" fill="none" stroke="#2c2c2c" stroke-width="0.66"/>
<circle cx="598.74" cy="797.40" r="1.36" fill="none" stroke="#2c2c2c" stroke-width="0.66"/>
<circle cx="598.74" cy="840.39" r="1.36" fill="none" stroke="#2c2c2c" stroke-width="0.66"/>
<circle cx="598.74" cy="848.99" r="1.36" fill="none" stroke="#2c2c2c" stroke-width="0.66"/>
<circle cx="598.74" cy="874.78" r="1.36" fill="none" stroke="#2c2c2c" stroke-width="0.66"/>
<circle cx="598.74" cy="891.98" r="1.36" fill="none" stroke="#2c2c2c" stroke-width="0.66"/>
<circle cx="598.74" cy="903.44" r="1.36" fill="none" stroke="#2c2c2c" stroke-width="0.66"/>
<circle cx="598.74" cy="926.37" r="1.36" fill="none" stroke="#2c2c2c" stroke-width="0.66"/>
<circle cx="598.74" cy="937.83" r="1.36" fill="none" stroke="#2c2c2c" stroke-width="0.66"/>
<circle cx="598.74" cy="972.80" r="1.36" fill="none" stroke="#2c2c2c" stroke-width="0.66"/>
<circle cx="598.74" cy="977.96" r="1.36" fill="none" stroke="#2c2c2c" stroke-width="0.66"/>
<circle cx="598.74" cy="979.96" r="1.36" fill="none" stroke="#2c2c2c" stroke-width="0.66"/>
<text transform="translate(498.40,1029.10) scale(0.95,1)" font-size="8.0" fill="#111" text-anchor="middle" font-weight="bold" stroke="#111" stroke-width="0.18">Odor_self_estim</text>
<text transform="translate(338.70,897.80) rotate(-90) scale(0.985,1)" font-size="7.5" font-weight="bold" fill="#111" stroke="#111" stroke-width="0.18" text-anchor="middle">voiq_sum</text>
<text transform="translate(577.80,975.55) scale(0.883,1)" font-size="6.2" fill="#1c1c1c" text-anchor="start" font-weight="normal" stroke="#1c1c1c" stroke-width="0.1">R Sq Linear = 0,154</text>
</svg>
</body>
</html>
